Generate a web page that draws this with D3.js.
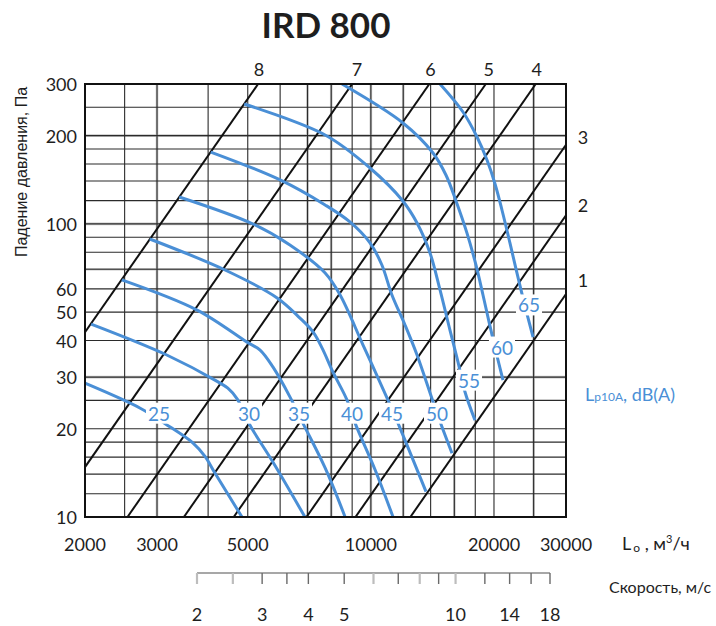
<!DOCTYPE html>
<html><head><meta charset="utf-8">
<script src="https://cdn.jsdelivr.net/npm/d3@7"></script>
<style>body{margin:0;background:#fff}svg{display:block}</style>
</head><body>
<svg id="c" width="716" height="626"></svg>
<script>
// ---------- data ----------
const title = "IRD 800";
const xTicks = [2000, 3000, 5000, 10000, 20000, 30000];
const yTicks = [10, 20, 30, 40, 50, 60, 100, 200, 300];
const xGridDark = [2500, 4000, 5000, 6000, 9000, 14000, 18000, 20000];
const xGridLight = [3000, 7000, 8000, 10000, 12000, 16000, 25000];
const yGridDark = [12, 14, 16, 18, 20, 25, 40, 50, 60, 80, 90, 120, 140, 160, 180, 250];
const yGridLight = [30, 70, 100, 200];
const velTicks = [2, 2.5, 3, 3.5, 4, 5, 6, 7, 8, 9, 10, 12, 14, 16, 18];
const velLight = [2, 2.5, 6, 8, 10];
const velLabels = [2, 3, 4, 5, 10, 14, 18];

// damper positions (straight lines, start / end points)
const positions = ["8", "7", "6", "5", "4", "3", "2", "1"];
const posQ1 = [2000, 2000, 2540, 3490, 4620, 6960, 9170, 12490];
const posP1 = [42.7, 14.8, 10, 10, 10, 10, 10, 10];
const posQ2 = [5300, 9000, 13900, 19100, 25300, 30000, 30000, 30000];
const posP2 = [300, 300, 300, 300, 300, 186, 107, 57.6];
const posLabelQ = [5300, 9200, 13900, 19300, 25300, 30000, 30000, 30000];
const posLabelP = [300, 300, 300, 300, 300, 198, 116, 64.4];

// sound level curves Lp10A, dB(A)
const levels = [25, 30, 35, 40, 45, 50, 55, 60, 65];
const c25Q = [2000, 2730, 3140, 3670, 3930, 4160, 4840];
const c25P = [28.6, 23.5, 20.8, 17.9, 16.1, 14.1, 10];
const c30Q = [2070, 3170, 4230, 4470, 4710, 5060, 5760, 6900];
const c30P = [45.5, 35.7, 28.9, 27.5, 25.3, 20.6, 15.4, 10];
const c35Q = [2460, 3760, 4980, 5360, 5760, 6340, 6820, 7730, 8650];
const c35P = [64.4, 50.8, 39.5, 37.1, 32.5, 25.7, 20.9, 14.7, 10];
const c40Q = [2880, 4400, 5900, 6710, 7220, 7600, 8080, 8740, 9150, 10240, 11330];
const c40P = [88.8, 69.6, 55.9, 47.7, 42.8, 37.7, 31.2, 25.1, 20.9, 14.5, 10];
const c45Q = [3400, 5150, 6340, 7730, 8410, 9570, 10950, 11650, 13640];
const c45P = [123.5, 99.9, 84.7, 68.0, 57.2, 38.6, 25.5, 20.9, 12.2];
const c50Q = [4060, 6000, 7730, 8890, 9950, 10640, 11260, 12120, 12970, 14510, 15790];
const c50P = [175.8, 141.2, 116.0, 101.5, 86.1, 72.4, 57.2, 45.2, 35.7, 22.6, 16.5];
const c55Q = [4900, 7730, 9950, 11920, 12970, 13950, 14760, 15610, 16330, 16990, 17970];
const c55P = [256.4, 201, 155.1, 120.6, 100.7, 79.6, 59.5, 43.4, 33.8, 26.7, 21.4];
const c60Q = [8500, 11980, 14190, 15260, 16150, 17180, 18070, 18800, 19450, 20230, 21040];
const c60P = [300, 220.9, 174.5, 146.8, 119.7, 93.0, 72.4, 57.2, 46.3, 36.6, 29.3];
const c65Q = [14760, 16800, 18180, 19230, 20120, 20920, 21880, 22760, 23680, 24920];
const c65P = [300, 240.8, 197.9, 165.1, 136.8, 111.5, 86.1, 68.0, 54.1, 41.1];
const levelLabelQ = [3034, 5036, 6672, 8993, 11264, 14512, 17376, 20920, 24360];
const levelLabelP = [22.6, 22.6, 22.6, 22.6, 22.6, 22.6, 29.3, 38.0, 52.9];

// ---------- drawing ----------
const curvesQ = [c25Q, c30Q, c35Q, c40Q, c45Q, c50Q, c55Q, c60Q, c65Q];
const curvesP = [c25P, c30P, c35P, c40P, c45P, c50P, c55P, c60P, c65P];

const svg = d3.select("#c");
const L = 85, R = 566, T = 84, B = 517;
const x = d3.scaleLog().domain([2000, 30000]).range([L, R]);
const y = d3.scaleLog().domain([10, 300]).range([B, T]);
const v = d3.scaleLog().domain([2, 18]).range([197, 550]);
const BLUE = "#4a8fd6";
const INK = "#1e1e1e";
const NUMF = "Lato, 'Open Sans', sans-serif";

svg.append("defs").append("clipPath").attr("id", "plot")
  .append("rect").attr("x", L).attr("y", T).attr("width", R - L).attr("height", B - T);

// title
svg.append("text").attr("x", 326).attr("y", 38).attr("text-anchor", "middle")
  .attr("font-family", NUMF).attr("font-weight", 700).attr("font-size", 35)
  .attr("fill", INK).text(title);

const g = svg.append("g").attr("clip-path", "url(#plot)");

// grid
g.selectAll(".xl").data(xGridLight).join("line")
  .attr("x1", d => x(d)).attr("x2", d => x(d)).attr("y1", T).attr("y2", B)
  .attr("stroke", "#c6c6c6").attr("stroke-width", 2.6);
g.selectAll(".yl").data(yGridLight).join("line")
  .attr("y1", d => y(d)).attr("y2", d => y(d)).attr("x1", L).attr("x2", R)
  .attr("stroke", "#c6c6c6").attr("stroke-width", 2.6);
g.selectAll(".xd").data(xGridDark.concat(xGridLight)).join("line")
  .attr("x1", d => x(d)).attr("x2", d => x(d)).attr("y1", T).attr("y2", B)
  .attr("stroke", "#2b2b2b").attr("stroke-width", 1.1);
g.selectAll(".yd").data(yGridDark.concat(yGridLight)).join("line")
  .attr("y1", d => y(d)).attr("y2", d => y(d)).attr("x1", L).attr("x2", R)
  .attr("stroke", "#2b2b2b").attr("stroke-width", 1.1);

// damper lines
g.selectAll(".pos").data(positions).join("line")
  .attr("x1", (d, i) => x(posQ1[i])).attr("y1", (d, i) => y(posP1[i]))
  .attr("x2", (d, i) => x(posQ2[i])).attr("y2", (d, i) => y(posP2[i]))
  .attr("stroke", "#111").attr("stroke-width", 2);

// sound curves
const line = d3.line().x(d => x(d[0])).y(d => y(d[1])).curve(d3.curveCatmullRom.alpha(0.5));
g.selectAll(".lv").data(levels).join("path")
  .attr("d", (d, i) => line(curvesQ[i].map((q, k) => [q, curvesP[i][k]])))
  .attr("fill", "none").attr("stroke", BLUE).attr("stroke-width", 3)
  .attr("stroke-linecap", "butt");

// level labels with white box
const lg = svg.append("g");
levels.forEach((d, i) => {
  const t = lg.append("text").attr("x", x(levelLabelQ[i])).attr("y", y(levelLabelP[i]))
    .attr("text-anchor", "middle").attr("dominant-baseline", "central")
    .attr("font-family", NUMF).attr("font-size", 19).attr("fill", BLUE).text(d);
  const b = t.node().getBBox();
  lg.insert("rect", "text").attr("x", b.x - 2).attr("y", b.y + 1)
    .attr("width", b.width + 4).attr("height", b.height - 2).attr("fill", "#fff");
});

// frame
svg.append("rect").attr("x", L).attr("y", T).attr("width", R - L).attr("height", B - T)
  .attr("fill", "none").attr("stroke", "#111").attr("stroke-width", 2);

// position labels
svg.selectAll(".pl").data(positions).join("text")
  .attr("x", (d, i) => x(posLabelQ[i]) + (posLabelP[i] < 300 ? 17 : 1))
  .attr("y", (d, i) => posLabelP[i] < 300 ? y(posLabelP[i]) : T - 15)
  .attr("text-anchor", "middle").attr("dominant-baseline", "central")
  .attr("font-family", NUMF).attr("font-size", 18).attr("fill", INK).text(d => d);

// y ticks
svg.selectAll(".yt").data(yTicks).join("text")
  .attr("x", 77).attr("y", d => y(d)).attr("text-anchor", "end").attr("dominant-baseline", "central")
  .attr("font-family", NUMF).attr("font-size", 18).attr("fill", INK).text(d => d);
// x ticks
svg.selectAll(".xt").data(xTicks).join("text")
  .attr("x", d => x(d)).attr("y", 544).attr("text-anchor", "middle").attr("dominant-baseline", "central")
  .attr("font-family", NUMF).attr("font-size", 18).attr("fill", INK).text(d => d);

// y title
svg.append("text").attr("transform", "translate(21,172) rotate(-90)")
  .attr("text-anchor", "middle").attr("dominant-baseline", "central")
  .attr("font-family", "'Liberation Sans', Arial, sans-serif").attr("font-size", 16)
  .attr("fill", INK).text("Падение давления, Па");

// x unit label
const xu = svg.append("text").attr("x", 622).attr("y", 550)
  .attr("font-family", NUMF).attr("font-size", 18).attr("fill", INK);
xu.append("tspan").text("L");
xu.append("tspan").attr("font-size", 12).attr("dx", 2).attr("dy", 2).text("o");
xu.append("tspan").attr("dy", -2).text(" , м");
xu.append("tspan").attr("font-size", 11).attr("dy", -7).text("3");
xu.append("tspan").attr("dy", 7).text("/ч");

// legend title
const lt = svg.append("text").attr("x", 585).attr("y", 401)
  .attr("font-family", NUMF).attr("font-size", 18).attr("fill", BLUE);
lt.append("tspan").text("L");
lt.append("tspan").attr("font-size", 12).text("p10A");
lt.append("tspan").text(", dB(A)");

// velocity axis
const va = svg.append("g");
va.append("line").attr("x1", v(2)).attr("x2", v(18)).attr("y1", 573).attr("y2", 573)
  .attr("stroke", "#8a8a8a").attr("stroke-width", 1.5);
va.selectAll(".vt").data(velTicks).join("line")
  .attr("x1", d => v(d)).attr("x2", d => v(d)).attr("y1", 573).attr("y2", 584)
  .attr("stroke", d => velLight.includes(d) ? "#bdbdbd" : "#6a6a6a")
  .attr("stroke-width", d => velLight.includes(d) ? 2.2 : 1.4);
va.selectAll(".vl").data(velLabels).join("text")
  .attr("x", d => v(d)).attr("y", 614).attr("text-anchor", "middle").attr("dominant-baseline", "central")
  .attr("font-family", NUMF).attr("font-size", 18).attr("fill", INK).text(d => d);
svg.append("text").attr("x", 609).attr("y", 586).attr("dominant-baseline", "central")
  .attr("font-family", NUMF).attr("font-size", 16).attr("fill", INK).text("Скорость, м/с");
</script>
</body></html>
